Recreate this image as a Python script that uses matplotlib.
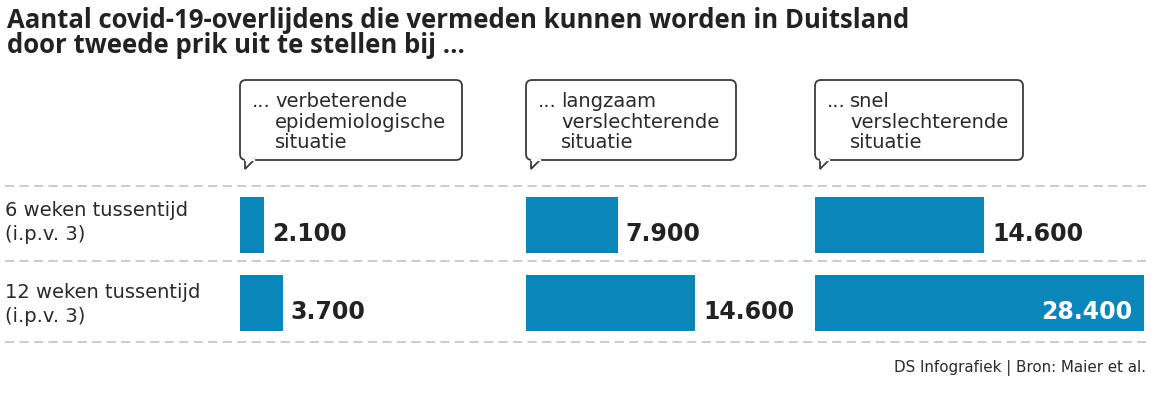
import matplotlib
matplotlib.use('Agg')
import matplotlib.pyplot as plt
from matplotlib.patches import FancyBboxPatch, Polygon

plt.rcParams['font.family'] = ['DejaVu Sans']

# data
title = ['Aantal covid-19-overlijdens die vermeden kunnen worden in Duitsland',
         'door tweede prik uit te stellen bij ...']
rows = [['6 weken tussentijd', '(i.p.v. 3)'], ['12 weken tussentijd', '(i.p.v. 3)']]
scenarios = [['verbeterende', 'epidemiologische', 'situatie'],
             ['langzaam', 'verslechterende', 'situatie'],
             ['snel', 'verslechterende', 'situatie']]
values = [[2100, 3700], [7900, 14600], [14600, 28400]]
labels = [['2.100', '3.700'], ['7.900', '14.600'], ['14.600', '28.400']]
source = 'DS Infografiek | Bron: Maier et al.'

W, H = 1152, 396
BLUE = '#0a86ba'
DARK = '#222222'
TXT = '#2a2a2a'
TITLEFONT = ['Open Sans', 'DejaVu Sans']

fig = plt.figure(figsize=(W / 100, H / 100), dpi=100)
base = fig.add_axes([0, 0, 1, 1])
base.set_xlim(0, W)
base.set_ylim(H, 0)
base.axis('off')

# titel
for i, t in enumerate(title):
    base.text(7, 28 + i * 25, t, fontsize=18.5, fontweight='bold', color=DARK,
              family=TITLEFONT, va='baseline', ha='left')

# gestippelde lijnen
for y in [186, 261, 342]:
    base.plot([5, 1146], [y, y], color='#bdbdbd', lw=1.1, ls=(0, (6, 3.5)))

# rijlabels
for i, r in enumerate(rows):
    for j, line in enumerate(r):
        base.text(5, 216 + i * 82 + j * 24, line, fontsize=14, color=TXT,
                  va='baseline', ha='left')

# panelen
starts = [240, 526, 815]
box_w = [222, 210, 208]
full = 28400
full_px = 329
top, bottom = 186, 342

for k, x0 in enumerate(starts):
    # tekstballon
    bx, by, bh = x0, 80, 80
    box = FancyBboxPatch((bx, by), box_w[k], bh,
                         boxstyle='round,pad=0,rounding_size=6',
                         fc='white', ec='#3a3a3a', lw=1.3, zorder=3)
    base.add_patch(box)
    tail = Polygon([(bx + 5, by + bh - 1), (bx + 5, by + bh + 9), (bx + 15, by + bh - 1)],
                   closed=False, fc='white', ec='#3a3a3a', lw=1.3, zorder=4)
    base.add_patch(tail)
    base.plot([bx + 6, bx + 14], [by + bh, by + bh], color='white', lw=1.6, zorder=5)
    base.text(bx + 12, 107, '...', fontsize=14, color=TXT, va='baseline', zorder=6)
    for j, line in enumerate(scenarios[k]):
        base.text(bx + 35, 107 + j * 20.5, line, fontsize=14, color=TXT,
                  va='baseline', ha='left', zorder=6)

    # staven
    ax = fig.add_axes([x0 / W, 1 - bottom / H, full_px / W, (bottom - top) / H])
    ax.set_xlim(0, full)
    ax.set_ylim(1.5, -0.5)
    ax.axis('off')
    ax.patch.set_alpha(0)
    ax.barh([0, 1], values[k], height=0.71, color=BLUE)
    for j, v in enumerate(values[k]):
        if v == full:
            ax.annotate(labels[k][j], (v, j), xytext=(-12, -16), textcoords='offset pixels',
                        ha='right', va='baseline', fontsize=17, fontweight='bold',
                        color='white')
        else:
            ax.annotate(labels[k][j], (v, j), xytext=(8, -16), textcoords='offset pixels',
                        ha='left', va='baseline', fontsize=17, fontweight='bold',
                        color=DARK)

base.text(1146, 372, source, fontsize=10.9, color=TXT, ha='right', va='baseline')

fig.savefig('out.png', dpi=100)
